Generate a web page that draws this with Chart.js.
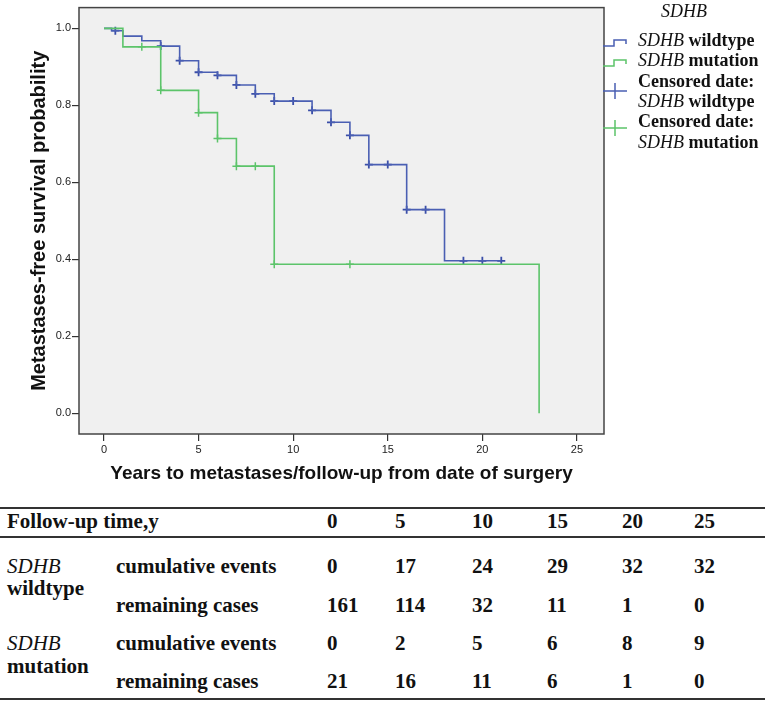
<!DOCTYPE html>
<html>
<head>
<meta charset="utf-8">
<script src="https://cdn.jsdelivr.net/npm/chart.js@4.4.1/dist/chart.umd.min.js"></script>
<style>
  body { margin: 0; background: #fff; }
  #wrap { position: relative; width: 767px; height: 701px; overflow: hidden; }
  #km { position: absolute; left: 0; top: 0; }
  .cell { position: absolute; font-family: 'Liberation Serif', 'Times New Roman', serif; font-weight: bold;
          font-size: 21px; line-height: 22px; color: #111; white-space: nowrap; }
  .cell i { font-weight: normal; }
  .rule { position: absolute; left: 0; width: 765px; background: #333; }
</style>
</head>
<body>
<div id="wrap">
  <canvas id="km" width="767" height="492"></canvas>
  <div id="table"></div>
</div>
<script>
// Kaplan-Meier steps
var wildTime = [0, 0.4, 1, 2, 3, 4, 5, 6, 7, 8, 9, 11, 12, 13, 14, 16, 18, 21];
var wildSurv = [1.0, 0.994, 0.980, 0.968, 0.954, 0.916, 0.886, 0.878, 0.853, 0.830, 0.811, 0.787, 0.756, 0.722, 0.646, 0.529, 0.396, 0.396];
var wildCensTime = [0.6, 3, 4, 5, 6, 7, 8, 9, 10, 11, 12, 13, 14, 15, 16, 17, 19, 20, 21];
var wildCensSurv = [0.994, 0.954, 0.916, 0.886, 0.878, 0.853, 0.830, 0.811, 0.811, 0.787, 0.756, 0.722, 0.646, 0.646, 0.529, 0.529, 0.396, 0.396, 0.396];

var mutTime = [0, 1, 3, 5, 6, 7, 9, 23];
var mutSurv = [1.0, 0.952, 0.839, 0.781, 0.714, 0.642, 0.387, 0.0];
var mutCensTime = [2, 3, 5, 6, 7, 8, 9, 13];
var mutCensSurv = [0.952, 0.839, 0.781, 0.714, 0.642, 0.642, 0.387, 0.387];

var xTicks = [0, 5, 10, 15, 20, 25];
var yTicks = [0, 0.2, 0.4, 0.6, 0.8, 1.0];

// numbers-at-risk table
var followUp = [0, 5, 10, 15, 20, 25];
var wildEvents = [0, 17, 24, 29, 32, 32];
var wildRemaining = [161, 114, 32, 11, 1, 0];
var mutEvents = [0, 2, 5, 6, 8, 9];
var mutRemaining = [21, 16, 11, 6, 1, 0];

var BLUE = '#4a5fb3';
var GREEN = '#5cc46a';

function pts(xs, ys) {
  return xs.map(function (x, i) { return { x: x, y: ys[i] }; });
}

// plot background + frame
var panelPlugin = {
  id: 'panel',
  beforeDatasetsDraw: function (chart) {
    var a = chart.chartArea, ctx = chart.ctx;
    ctx.save();
    ctx.fillStyle = '#f0f0f0';
    ctx.fillRect(a.left, a.top, a.right - a.left, a.bottom - a.top);
    ctx.strokeStyle = '#444';
    ctx.lineWidth = 1.5;
    ctx.strokeRect(a.left, a.top, a.right - a.left, a.bottom - a.top);
    ctx.restore();
  }
};

function drawParts(ctx, parts, x, y) {
  parts.forEach(function (p) {
    ctx.font = p[1];
    ctx.fillText(p[0], x, y);
    x += ctx.measureText(p[0]).width;
  });
}

// SPSS style legend on the right
var legendPlugin = {
  id: 'spssLegend',
  afterDraw: function (chart) {
    var ctx = chart.ctx;
    var it = 'italic 18px "Liberation Serif"';
    var bd = 'bold 18px "Liberation Serif"';
    ctx.save();
    ctx.fillStyle = '#111';
    ctx.textBaseline = 'middle';
    ctx.textAlign = 'center';
    ctx.font = it;
    ctx.fillText('SDHB', 684, 12);
    ctx.textAlign = 'left';

    ctx.lineWidth = 1.5;
    [[BLUE, 46], [GREEN, 66]].forEach(function (s) {
      ctx.strokeStyle = s[0];
      ctx.beginPath();
      ctx.moveTo(603, s[1]);
      ctx.lineTo(614, s[1]);
      ctx.lineTo(614, s[1] - 6);
      ctx.lineTo(626, s[1] - 6);
      ctx.lineTo(626, s[1] - 2);
      ctx.stroke();
    });
    [[BLUE, 91], [GREEN, 128]].forEach(function (s) {
      ctx.strokeStyle = s[0];
      ctx.beginPath();
      ctx.moveTo(603, s[1]);
      ctx.lineTo(627, s[1]);
      ctx.moveTo(615, s[1] - 8);
      ctx.lineTo(615, s[1] + 8);
      ctx.stroke();
    });

    drawParts(ctx, [['SDHB', it], [' wildtype', bd]], 638, 41);
    drawParts(ctx, [['SDHB', it], [' mutation', bd]], 638, 61);
    drawParts(ctx, [['Censored date:', bd]], 638, 82);
    drawParts(ctx, [['SDHB', it], [' wildtype', bd]], 638, 102);
    drawParts(ctx, [['Censored date:', bd]], 638, 122);
    drawParts(ctx, [['SDHB', it], [' mutation', bd]], 638, 143);
    ctx.restore();
  }
};

var ctx = document.getElementById('km').getContext('2d');

var chart = new Chart(ctx, {
  type: 'line',
  data: {
    datasets: [
      {
        label: 'SDHB mutation',
        data: pts(mutTime, mutSurv),
        borderColor: GREEN,
        borderWidth: 1.6,
        stepped: 'before',
        pointRadius: 0,
        fill: false
      },
      {
        label: 'SDHB wildtype',
        data: pts(wildTime, wildSurv),
        borderColor: BLUE,
        borderWidth: 1.6,
        stepped: 'before',
        pointRadius: 0,
        fill: false
      },
      {
        label: 'Censored date: SDHB mutation',
        data: pts(mutCensTime, mutCensSurv),
        showLine: false,
        pointStyle: 'cross',
        pointRadius: 4,
        borderColor: GREEN,
        pointBorderWidth: 1.5
      },
      {
        label: 'Censored date: SDHB wildtype',
        data: pts(wildCensTime, wildCensSurv),
        showLine: false,
        pointStyle: 'cross',
        pointRadius: 4,
        borderColor: '#3a4ea8',
        pointBorderWidth: 1.8
      }
    ]
  },
  options: {
    responsive: false,
    animation: false,
    devicePixelRatio: 1,
    layout: { padding: { left: 0, top: 4, right: 163, bottom: 0 } },
    plugins: {
      legend: { display: false },
      tooltip: { enabled: false }
    },
    scales: {
      x: {
        type: 'linear',
        min: -1.32,
        max: 26.43,
        afterBuildTicks: function (s) { s.ticks = xTicks.map(function (v) { return { value: v }; }); },
        afterFit: function (s) { s.height = 58; },
        border: { display: false },
        grid: { drawOnChartArea: false, drawTicks: true, tickLength: 7, color: '#333', lineWidth: 1.2 },
        ticks: {
          padding: 2,
          maxRotation: 0,
          color: '#222',
          font: { family: 'Liberation Sans', size: 11 },
          callback: function (v) { return v; }
        },
        title: {
          display: true,
          text: 'Years to metastases/follow-up from date of surgery',
          color: '#111',
          font: { family: 'Liberation Sans', size: 19, weight: 'bold' },
          padding: { top: 0, bottom: 7 }
        }
      },
      y: {
        type: 'linear',
        min: -0.054,
        max: 1.054,
        afterBuildTicks: function (s) { s.ticks = yTicks.map(function (v) { return { value: v }; }); },
        afterFit: function (s) { s.width = 79; },
        border: { display: false },
        grid: { drawOnChartArea: false, drawTicks: true, tickLength: 7, color: '#333', lineWidth: 1.2 },
        ticks: {
          padding: 1,
          color: '#222',
          font: { family: 'Liberation Sans', size: 11 },
          callback: function (v) { return v.toFixed(1); }
        },
        title: {
          display: true,
          text: 'Metastases-free survival probability',
          color: '#111',
          font: { family: 'Liberation Sans', size: 20, weight: 'bold' },
          padding: { top: 27, bottom: 0 }
        }
      }
    }
  },
  plugins: [panelPlugin, legendPlugin]
});

// table under the chart
var table = document.getElementById('table');
var colX = [327, 395, 472, 547, 622, 694];

function addCell(html, x, yMid) {
  var d = document.createElement('div');
  d.className = 'cell';
  d.innerHTML = html;
  d.style.left = x + 'px';
  d.style.top = (yMid - 11) + 'px';
  table.appendChild(d);
}
function addRule(y, h) {
  var d = document.createElement('div');
  d.className = 'rule';
  d.style.top = y + 'px';
  d.style.height = h + 'px';
  table.appendChild(d);
}

addRule(507, 2);
addRule(536, 2);
addRule(698, 2);

addCell('Follow-up time,y', 7, 521);
followUp.forEach(function (v, i) { addCell(v, colX[i], 521); });

var rows = [
  { y: 566, label: 'cumulative events', vals: wildEvents },
  { y: 605, label: 'remaining cases', vals: wildRemaining },
  { y: 643, label: 'cumulative events', vals: mutEvents },
  { y: 681, label: 'remaining cases', vals: mutRemaining }
];
rows.forEach(function (r) {
  addCell(r.label, 116, r.y);
  r.vals.forEach(function (v, i) { addCell(v, colX[i], r.y); });
});
addCell('<i>SDHB</i>', 7, 566);
addCell('wildtype', 7, 588);
addCell('<i>SDHB</i>', 7, 643);
addCell('mutation', 7, 666);
</script>
</body>
</html>
